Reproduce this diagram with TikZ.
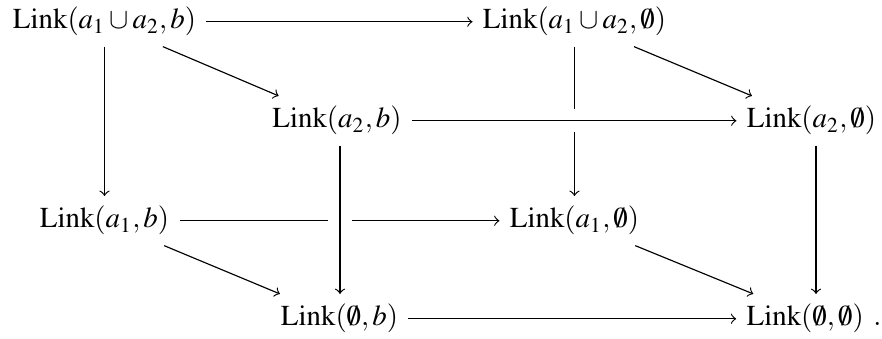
\documentclass[tikz,border=0pt]{standalone}
\usepackage{mathptmx}
\begin{document}
\begin{tikzpicture}[x=0.346pt,y=-0.346pt,
  obj/.style={inner sep=3.4pt, anchor=base},
  arr/.style={->, line width=0.4pt},
  crossing/.style={preaction={draw=white, line width=8pt, -}}]
\useasboundingbox (0,0) rectangle (882,339);
\node[obj] (A) at (104.5,29) {$\mathrm{Link}(a_1\cup a_2,b)$};
\node[obj] (B) at (574.5,29) {$\mathrm{Link}(a_1\cup a_2,\emptyset)$};
\node[obj] (C) at (337,128) {$\mathrm{Link}(a_2,b)$};
\node[obj] (D) at (811.5,128) {$\mathrm{Link}(a_2,\emptyset)$};
\node[obj] (E) at (104.5,228) {$\mathrm{Link}(a_1,b)$};
\node[obj] (F) at (574.5,228) {$\mathrm{Link}(a_1,\emptyset)$};
\node[obj] (G) at (339.5,326) {$\mathrm{Link}(\emptyset,b)$};
\node[obj] (H) at (814,326) {$\mathrm{Link}(\emptyset,\emptyset)\ .$};
% back face
\draw[arr] (A) -- (B);
\draw[arr] (A) -- (E);
\draw[arr] (B) -- (F);
\draw[arr] (E) -- (F);
% diagonals
\draw[arr] (A) -- (C);
\draw[arr] (B) -- (D);
\draw[arr] (E) -- (G);
\draw[arr] (F) -- (H);
% front face
\draw[arr, crossing] (C) -- (D);
\draw[arr, crossing] ([xshift=1.04pt]C.south) -- ([xshift=1.04pt]C.south |- G.north);
\draw[arr] ([xshift=1.56pt]D.south) -- ([xshift=1.56pt]D.south |- H.north);
\draw[arr] (G) -- (H);
\end{tikzpicture}
\end{document}
